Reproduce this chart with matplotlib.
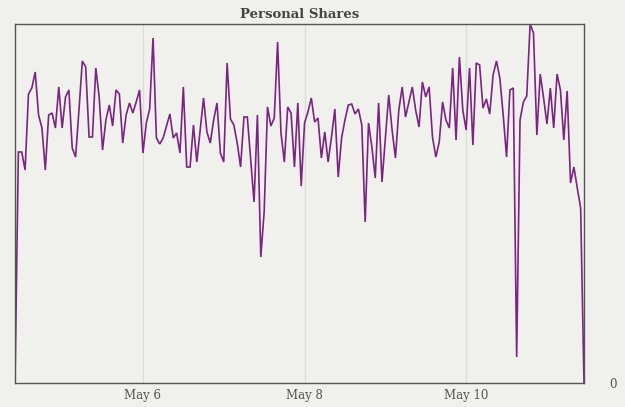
import numpy as np
import pandas as pd
import matplotlib
matplotlib.use("Agg")
import matplotlib.pyplot as plt
import matplotlib.dates as mdates

# hourly personal shares, starting May 4 10:00
start = "2014-05-04 10:00"
shares = [
    0, 231, 231, 213, 289, 295, 311, 268, 255, 213, 268, 270, 255, 296, 255, 286,
    293, 235, 226, 273, 322, 316, 246, 246, 315, 286, 233, 263, 278, 257, 293, 289,
    240, 268, 280, 270, 281, 293, 230, 260, 274, 345, 245, 239, 245, 257, 269, 245,
    250, 230, 296, 216, 216, 258, 221, 253, 285, 251, 240, 263, 280, 230, 221, 320,
    264, 258, 240, 216, 266, 266, 223, 181, 268, 126, 171, 276, 257, 265, 341, 250,
    221, 276, 270, 216, 280, 197, 260, 271, 285, 261, 265, 225, 251, 221, 246, 274,
    206, 245, 263, 278, 279, 269, 274, 258, 161, 260, 236, 205, 280, 201, 245, 288,
    253, 225, 273, 296, 266, 281, 296, 273, 256, 301, 286, 296, 246, 226, 241, 281,
    263, 255, 315, 243, 326, 273, 253, 315, 238, 320, 318, 275, 284, 269, 308, 322,
    305, 268, 226, 293, 295, 26, 263, 281, 287, 359, 350, 248, 309, 285, 259, 295,
    255, 309, 293, 243, 292, 200, 216, 195, 175, 0,
]
times = pd.date_range(start, periods=len(shares), freq="h")

bg = "#f0f0ec"
fig = plt.figure(figsize=(6.25, 4.07), dpi=100, facecolor=bg)
ax = fig.add_axes([15 / 625, 24 / 407, 569 / 625, 359 / 407])
ax.set_facecolor(bg)

ax.plot(times, shares, color="#7a2581", lw=1.2, solid_joinstyle="miter")

ax.set_xlim(times[0], times[-1])
ax.set_ylim(0, max(shares))

ax.xaxis.set_major_locator(mdates.DayLocator(bymonthday=[6, 8, 10]))
ax.xaxis.set_major_formatter(mdates.DateFormatter("%b %-d"))
ax.grid(axis="x", color="#dcdcd6", lw=0.9)
ax.set_axisbelow(True)

ax.yaxis.tick_right()
ax.set_yticks([0])
ax.tick_params(axis="both", length=0, labelsize=8.5, labelcolor="#555555")
ax.tick_params(axis="y", pad=18)
ax.tick_params(axis="x", pad=4)
for lab in ax.get_xticklabels() + ax.get_yticklabels():
    lab.set_family("DejaVu Serif")

for s in ax.spines.values():
    s.set_color("#555555")
    s.set_linewidth(1.0)

ax.set_title("Personal Shares", fontsize=9.5, fontweight="bold", family="DejaVu Serif",
             color="#444444", pad=4)

fig.savefig("out.png", dpi=100, facecolor=bg)
